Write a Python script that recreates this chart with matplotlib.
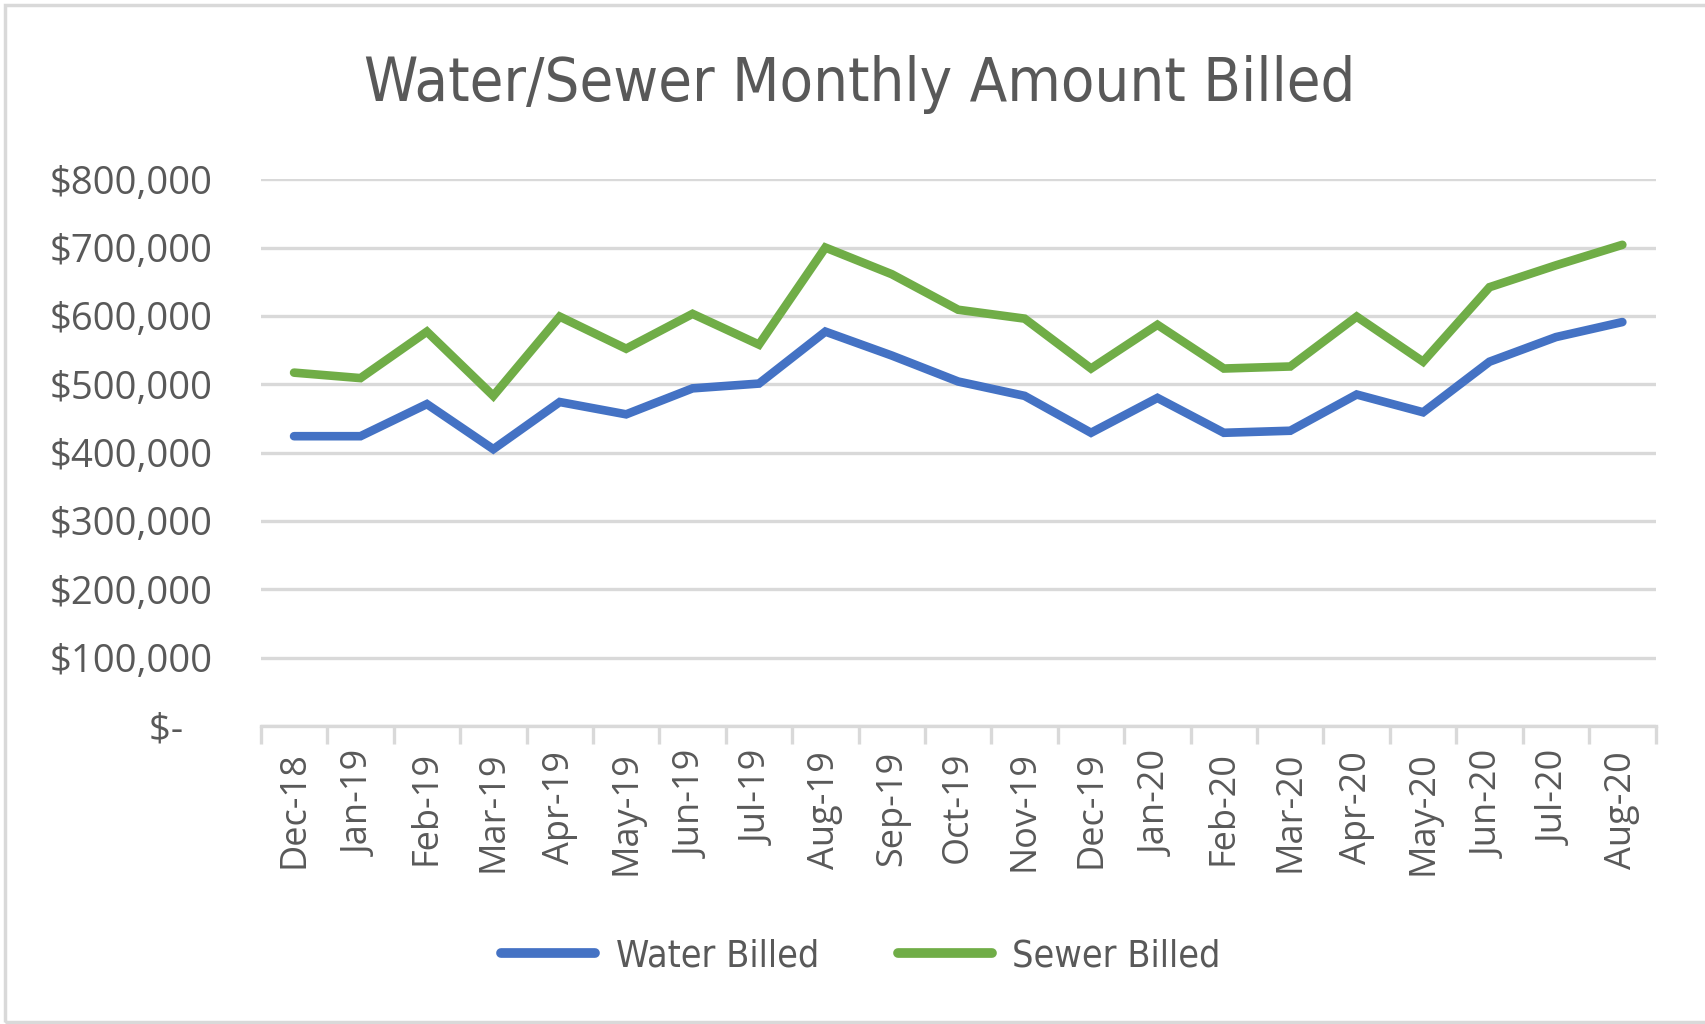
import matplotlib
matplotlib.use("Agg")
import matplotlib.pyplot as plt
from matplotlib.ticker import FuncFormatter, FixedLocator, NullFormatter
from matplotlib.patches import Rectangle

months = ["Dec-18", "Jan-19", "Feb-19", "Mar-19", "Apr-19", "May-19", "Jun-19",
          "Jul-19", "Aug-19", "Sep-19", "Oct-19", "Nov-19", "Dec-19", "Jan-20",
          "Feb-20", "Mar-20", "Apr-20", "May-20", "Jun-20", "Jul-20", "Aug-20"]
water_billed = [424000, 424000, 471000, 405000, 474000, 456000, 494000,
                501000, 577000, 542000, 504000, 483000, 429000, 480000,
                429000, 432000, 485000, 459000, 533000, 569000, 591000]
sewer_billed = [517000, 509000, 577000, 483000, 599000, 552000, 603000,
                558000, 700000, 661000, 609000, 596000, 523000, 587000,
                523000, 526000, 599000, 533000, 642000, 674000, 704000]
y_ticks = [0, 100000, 200000, 300000, 400000, 500000, 600000, 700000, 800000]

TXT = "#595959"
GRID = "#D9D9D9"

fig = plt.figure(figsize=(17.05, 10.24), dpi=100)
ax = fig.add_axes([0.153, 0.291, 0.818, 0.534])

x = list(range(len(months)))
ax.plot(x, water_billed, color="#4472C4", lw=6.2, solid_capstyle="round",
        solid_joinstyle="miter", label="Water Billed", zorder=3)
ax.plot(x, sewer_billed, color="#70AD47", lw=6.2, solid_capstyle="round",
        solid_joinstyle="miter", label="Sewer Billed", zorder=3)

ax.set_xlim(-0.5, len(months) - 0.5)
ax.set_ylim(0, 800000)
ax.set_yticks(y_ticks)
ax.yaxis.set_major_formatter(FuncFormatter(lambda v, p: "$-   " if v == 0 else f"${v:,.0f}"))
ax.grid(axis="y", color=GRID, lw=2.4, zorder=0)
ax.tick_params(axis="y", length=0, labelsize=27.5, labelcolor=TXT, pad=35)
for lbl in ax.get_yticklabels():
    lbl.set_fontfamily("Open Sans")

# category ticks between labels
ax.xaxis.set_major_locator(FixedLocator([i - 0.5 for i in range(len(months) + 1)]))
ax.xaxis.set_major_formatter(NullFormatter())
ax.xaxis.set_minor_locator(FixedLocator(x))
ax.set_xticklabels(months, minor=True, rotation=90, fontsize=26,
                   color=TXT, family="Open Sans")
ax.tick_params(axis="x", which="major", length=13, width=2.4, color=GRID)
ax.tick_params(axis="x", which="minor", length=0, pad=18)

for s in ["top", "right", "left"]:
    ax.spines[s].set_visible(False)
ax.spines["bottom"].set_color(GRID)
ax.spines["bottom"].set_linewidth(2.4)

fig.text(0.504, 0.917, "Water/Sewer Monthly Amount Billed", ha="center", va="center",
         fontsize=44, color=TXT, family="DejaVu Sans", fontstretch="condensed")

leg = fig.legend(loc="center", bbox_to_anchor=(0.505, 0.066), ncol=2, frameon=False,
                 handlelength=2.5, columnspacing=2.1, handletextpad=0.55,
                 prop={"family": "DejaVu Sans", "stretch": "condensed", "size": 27})
for t in leg.get_texts():
    t.set_color(TXT)
for h in leg.legend_handles:
    h.set_linewidth(7)
    h.set_solid_capstyle("round")

fig.patches.append(Rectangle((0.003, 0.002), 1.2, 0.993, transform=fig.transFigure,
                             fill=False, edgecolor="#D9D9D9", lw=2.5))

fig.savefig("out.png", dpi=100, facecolor="white")
